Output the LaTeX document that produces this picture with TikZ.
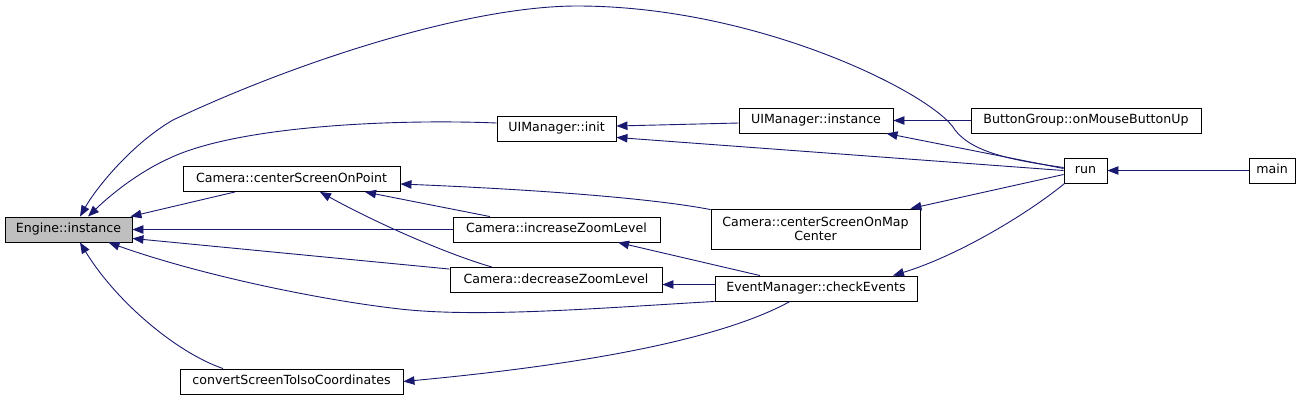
\documentclass[tikz,border=0pt]{standalone}
\usepackage{fontspec}
\setmainfont{DejaVu Sans}
\usetikzlibrary{arrows.meta,calc}
\definecolor{edgeblue}{HTML}{191970}
\definecolor{hlgray}{HTML}{BFBFBF}
\begin{document}
\begin{tikzpicture}[x=1pt,y=-1pt,
  fnbox/.style={draw=black, line width=0.9pt, fill=white, inner sep=0pt,
    minimum height=25pt, text height=9.3pt, text depth=2.6pt,
    font=\fontsize{12.6}{13.5}\selectfont},
  fnbox2/.style={draw=black, line width=0.9pt, fill=white, inner sep=0pt,
    minimum height=40pt, align=center, font=\fontsize{12.6}{13.5}\selectfont},
  call/.style={draw=edgeblue, line width=0.9pt, -{Triangle[length=11pt,width=8.5pt]}}]
\useasboundingbox (0,0) rectangle (1309,400);

% nodes
\node[fnbox, fill=hlgray, minimum width=127pt] (eng) at (68.5,229.5) {Engine::instance};
\node[fnbox, minimum width=217pt] (csp) at (291.5,179) {Camera::centerScreenOnPoint};
\node[fnbox, minimum width=223pt] (conv) at (291.5,381.5) {convertScreenToIsoCoordinates};
\node[fnbox, minimum width=119pt] (init) at (556.5,128.5) {UIManager::init};
\node[fnbox, minimum width=154pt] (uii) at (816,120.5) {UIManager::instance};
\node[fnbox, minimum width=207pt] (inc) at (556.5,229.5) {Camera::increaseZoomLevel};
\node[fnbox, minimum width=212pt] (dec) at (556,280) {Camera::decreaseZoomLevel};
\node[fnbox2, minimum width=209pt] (cmc) at (815.5,229) {Camera::centerScreenOnMap\\Center};
\node[fnbox, minimum width=202pt] (chk) at (816,288.5) {EventManager::checkEvents};
\node[fnbox, minimum width=230pt] (bg) at (1086,120.5) {ButtonGroup::onMouseButtonUp};
\node[fnbox, minimum width=43pt] (run) at (1085.5,170.5) {run};
\node[fnbox, minimum width=46pt] (main) at (1272,170.5) {main};

% edges (caller -> callee)
\draw[call] ($(run.west)+(0,-3)$) .. controls (1010,160) and (972,152) .. (955,130)
   .. controls (935,95) and (760,6) .. (577,6)
   .. controls (470,6) and (300,60) .. (173,120)
   .. controls (130,145) and (95,190) .. ($(eng.north)+(11.5,0)$);
\draw[call] ($(init.west)+(0,-5.5)$) .. controls (400,119) and (240,125) .. (170,158)
   .. controls (130,176) and (100,205) .. ($(eng.north)+(19.5,0)$);
\draw[call] ($(uii.west)+(0,2.5)$) -- ($(init.east)+(0,-2.5)$);
\draw[call] (run.west) -- ($(init.south east)+(0,-4)$);
\draw[call] (bg.west) -- (uii.east);
\draw[call] ($(run.west)+(0,-2)$) -- ($(uii.south east)+(-7,0)$);
\draw[call] (main.west) -- (run.east);
\draw[call] ($(csp.south)+(-56.5,0)$) -- ($(eng.north east)+(-2,0)$);
\draw[call] (inc.west) -- (eng.east);
\draw[call] ($(dec.north west)+(0,2)$) -- ($(eng.south east)+(0,-4)$);
\draw[call] (chk.south west) .. controls (600,308) and (480,318) .. (400,309)
   .. controls (320,300) and (200,275) .. ($(eng.south)+(40,0)$);
\draw[call] ($(conv.north)+(-68.5,0)$) .. controls (175,352) and (115,300) .. ($(eng.south)+(11.5,0)$);
\draw[call] ($(inc.north)+(-66.5,0)$) -- ($(csp.south)+(73.5,0)$);
\draw[call] ($(dec.north)+(-64,0)$) .. controls (450,255) and (380,225) .. ($(csp.south)+(28.5,0)$);
\draw[call] ($(cmc.north west)+(0,1)$) .. controls (640,196) and (500,188) .. ($(csp.east)+(0,5)$);
\draw[call] ($(run.west)+(0,4)$) -- ($(cmc.north east)+(-10,0)$);
\draw[call] ($(chk.north)+(-56,0)$) -- ($(inc.south)+(61.5,0)$);
\draw[call] ($(chk.west)+(0,-4)$) -- ($(dec.east)+(0,4.5)$);
\draw[call] ($(run.south west)+(1,0)$) .. controls (1030,212) and (960,255) .. ($(chk.north)+(77,0)$);
\draw[call] ($(chk.south)+(-26,0)$) .. controls (720,340) and (580,365) .. (conv.east);
\end{tikzpicture}
\end{document}
